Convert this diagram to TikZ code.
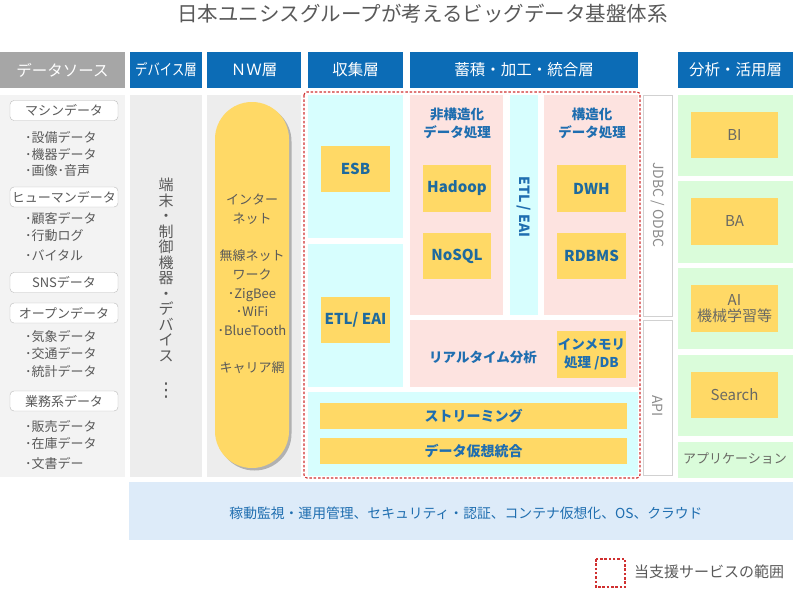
\documentclass[tikz,border=0pt]{standalone}
\usepackage{fontspec}
\setmainfont{Noto Sans CJK JP}
\newfontfamily\djv{DejaVu Sans}
\usetikzlibrary{shadows}
\definecolor{hblue}{RGB}{12,108,182}
\definecolor{hgray}{RGB}{166,166,166}
\definecolor{bgA}{RGB}{243,243,243}
\definecolor{bgB}{RGB}{237,237,237}
\definecolor{ylw}{RGB}{255,217,102}
\definecolor{cyn}{RGB}{215,254,254}
\definecolor{pnk}{RGB}{253,227,224}
\definecolor{grn}{RGB}{218,252,218}
\definecolor{lblue}{RGB}{221,235,249}
\definecolor{tblue}{RGB}{31,110,176}
\definecolor{tteal}{RGB}{30,106,158}
\definecolor{tgray}{RGB}{89,89,89}
\definecolor{rgray}{RGB}{105,105,100}
\definecolor{lgray}{RGB}{140,140,140}
\definecolor{rred}{RGB}{208,48,48}
\newcommand{\myfs}[2]{\fontsize{#1}{#2}\selectfont}
\tikzset{
  box/.style={inner sep=0pt, outer sep=0pt, anchor=center},
  hdr/.style={box, fill=hblue, text=white, font=\myfs{15.5}{18}, minimum height=36},
  area/.style={box, draw=none},
  ybox/.style={box, fill=ylw, text=tteal, font=\myfs{15}{18}\bfseries, align=center},
  gbox/.style={box, fill=ylw, text=rgray, font=\myfs{15}{18}, align=center},
  srclabel/.style={box, draw=black!27, fill=white, rounded corners=4pt, minimum width=108, minimum height=20, text=tgray, font=\myfs{13}{15}},
  srcitem/.style={inner sep=0pt, anchor=west, text=tgray, font=\myfs{13}{15}},
  sidebox/.style={box, draw=black!18, fill=white, line width=0.6pt},
  bluetxt/.style={inner sep=0pt, text=tblue, font=\myfs{13.5}{18}\bfseries, align=center},
  scope line/.style={draw=rred, line width=1.1pt, dash pattern=on 2.5pt off 1.8pt, rounded corners=3pt}
}
\begin{document}
\begin{tikzpicture}[x=1pt,y=-1pt]
\useasboundingbox (0,0) rectangle (793,605);
% title
\node[inner sep=0pt, text=tgray, font=\myfs{20.5}{24}] (title) at (422.5,14) {日本ユニシスグループが考えるビッグデータ基盤体系};
% headers
\node[hdr, fill=hgray, minimum width=125] (hsrc) at (62.5,70) {データソース};
\node[hdr, minimum width=72] (hdev) at (166,70) {\scalebox{0.8}[1]{デバイス層}};
\node[hdr, minimum width=94] (hnw) at (254,70) {ＮＷ層};
\node[hdr, minimum width=95] (hcol) at (355.5,70) {収集層};
\node[hdr, minimum width=228] (hacc) at (524,70) {蓄積・加工・統合層};
\node[hdr, minimum width=115] (hana) at (735.5,70) {分析・活用層};
% column backgrounds
\node[area, fill=bgA, minimum width=125, minimum height=382] (srcbg) at (62.5,286) {};
\node[area, fill=bgB, minimum width=72, minimum height=382] (devbg) at (166,286) {};
\node[area, fill=bgB, minimum width=94, minimum height=382] (nwbg) at (254,286) {};
% data sources
\node[srclabel] (s1) at (64,110.5) {マシンデータ};
\node[srcitem] (s1a) at (25,137) {･設備データ};
\node[srcitem] (s1b) at (25,154) {･機器データ};
\node[srcitem] (s1c) at (25,171) {･画像･音声};
\node[srclabel] (s2) at (64,197) {ヒューマンデータ};
\node[srcitem] (s2a) at (25,218) {･顧客データ};
\node[srcitem] (s2b) at (25,236) {･行動ログ};
\node[srcitem] (s2c) at (25,255) {･バイタル};
\node[srclabel] (s3) at (64,282.5) {SNSデータ};
\node[srclabel] (s4) at (64,313) {オープンデータ};
\node[srcitem] (s4a) at (25,337) {･気象データ};
\node[srcitem] (s4b) at (25,354) {･交通データ};
\node[srcitem] (s4c) at (25,372) {･統計データ};
\node[srclabel] (s5) at (64,401) {業務系データ};
\node[srcitem] (s5a) at (25,426) {･販売データ};
\node[srcitem] (s5b) at (25,443) {･在庫データ};
\node[srcitem] (s5c) at (25,463) {･文書デー};
% device column
\node[inner sep=0pt, text=tgray, align=center, font=\myfs{15}{15.5}] (devtxt) at (166,270) {端\\末\\・\\制\\御\\機\\器\\・\\デ\\バ\\イ\\ス};
\node[inner sep=0pt, text=tgray, font=\djv\myfs{19}{20}] (devdots) at (166,391) {⋮};
% NW pill
\node[box, fill=ylw, minimum width=74, minimum height=366, rounded corners=36.9pt,
      drop shadow={shadow xshift=2.5pt, shadow yshift=-2.5pt, opacity=0.25, fill=black}] (pill) at (252,285) {};
\node[inner sep=0pt, text=tgray, align=center, font=\myfs{13}{18.67}] (pilltxt) at (252,284) {インター\\ネット\\\mbox{}\\無線ネット\\ワーク\\･ZigBee\\･WiFi\\･BlueTooth\\\mbox{}\\キャリア網};
% collection layer
\node[area, fill=cyn, minimum width=95, minimum height=143] (col1) at (355.5,166.5) {};
\node[area, fill=cyn, minimum width=95, minimum height=143] (col2) at (355.5,315.5) {};
\node[ybox, minimum width=69, minimum height=46] (esb) at (355.5,169) {ESB};
\node[ybox, minimum width=69, minimum height=46] (etl1) at (355.5,320) {ETL/ EAI};
% accumulation layer
\node[area, fill=pnk, minimum width=93, minimum height=220] (pk1) at (456.5,205) {};
\node[area, fill=cyn, minimum width=28, minimum height=220] (strip) at (524,205) {};
\node[area, fill=pnk, minimum width=94, minimum height=220] (pk2) at (591,205) {};
\node[bluetxt] (pk1h) at (457,123) {非構造化\\データ処理};
\node[bluetxt] (pk2h) at (592,123) {構造化\\データ処理};
\node[ybox, minimum width=68, minimum height=47] (hadoop) at (457,188.5) {Hadoop};
\node[ybox, minimum width=68, minimum height=46] (nosql) at (457,256) {NoSQL};
\node[ybox, minimum width=69, minimum height=47] (dwh) at (591.5,188.5) {DWH};
\node[ybox, minimum width=69, minimum height=46] (rdbms) at (591.5,256) {RDBMS};
\node[inner sep=0pt, rotate=-90, text=tblue, font=\myfs{14}{16}\bfseries] (etl2) at (524,207) {ETL / EAI};
\node[area, fill=pnk, minimum width=228, minimum height=67] (rt) at (524,353.5) {};
\node[bluetxt] (rttxt) at (483,357) {リアルタイム分析};
\node[ybox, text=tblue, font=\myfs{13.5}{18}\bfseries, minimum width=69, minimum height=47] (inmem) at (591.5,354.5) {インメモリ\\処理 /DB};
\node[area, fill=cyn, minimum width=330, minimum height=84] (botc) at (473,434) {};
\node[ybox, text=tblue, font=\myfs{14}{16}\bfseries, minimum width=307, minimum height=26] (stream) at (473.5,416) {ストリーミング};
\node[ybox, text=tblue, font=\myfs{14}{16}\bfseries, minimum width=307, minimum height=26] (virt) at (473.5,451) {データ仮想統合};
% scope boundary
\coordinate (scA) at (304,92);
\coordinate (scB) at (640,478);
\draw[scope line] (scA) rectangle (scB);
% interfaces
\node[sidebox, minimum width=29, minimum height=221] (jdbc) at (657.5,205.5) {};
\node[inner sep=0pt, rotate=-90, text=lgray, font=\myfs{14}{16}] (jdbctxt) at (657.5,205) {JDBC / ODBC};
\node[sidebox, minimum width=29, minimum height=155] (api) at (657.5,397.5) {};
\node[inner sep=0pt, rotate=-90, text=lgray, font=\myfs{14}{16}] (apitxt) at (657.5,406) {API};
% analysis layer
\node[area, fill=grn, minimum width=115, minimum height=81] (g1) at (735.5,135.5) {};
\node[area, fill=grn, minimum width=115, minimum height=82] (g2) at (735.5,222) {};
\node[area, fill=grn, minimum width=115, minimum height=81] (g3) at (735.5,308.5) {};
\node[area, fill=grn, minimum width=115, minimum height=81] (g4) at (735.5,395.5) {};
\node[area, fill=grn, minimum width=115, minimum height=36] (g5) at (735.5,460) {};
\node[gbox, minimum width=87, minimum height=46] (bi) at (734.5,135) {BI};
\node[gbox, minimum width=87, minimum height=47] (ba) at (734.5,221.5) {BA};
\node[gbox, minimum width=87, minimum height=47] (ai) at (734.5,308.5) {AI\\[-2pt]機械学習等};
\node[gbox, minimum width=87, minimum height=46] (search) at (734.5,395) {Search};
\node[inner sep=0pt, text=rgray, font=\myfs{13}{15}] (app) at (735,458) {アプリケーション};
% bottom bar
\node[area, fill=lblue, minimum width=664, minimum height=58] (infra) at (461,511) {};
\node[inner sep=0pt, text=tblue, font=\myfs{13.8}{16}] (infratxt) at (466,513) {稼動監視・運用管理、セキュリティ・認証、コンテナ仮想化、OS、クラウド};
% legend
\coordinate (lgA) at (596,559);
\coordinate (lgB) at (625,587);
\draw[scope line, rounded corners=0pt] (lgA) rectangle (lgB);
\node[inner sep=0pt, anchor=west, text=tgray, font=\myfs{15}{18}] (lgtxt) at (634,572) {当支援サービスの範囲};
\end{tikzpicture}
\end{document}
